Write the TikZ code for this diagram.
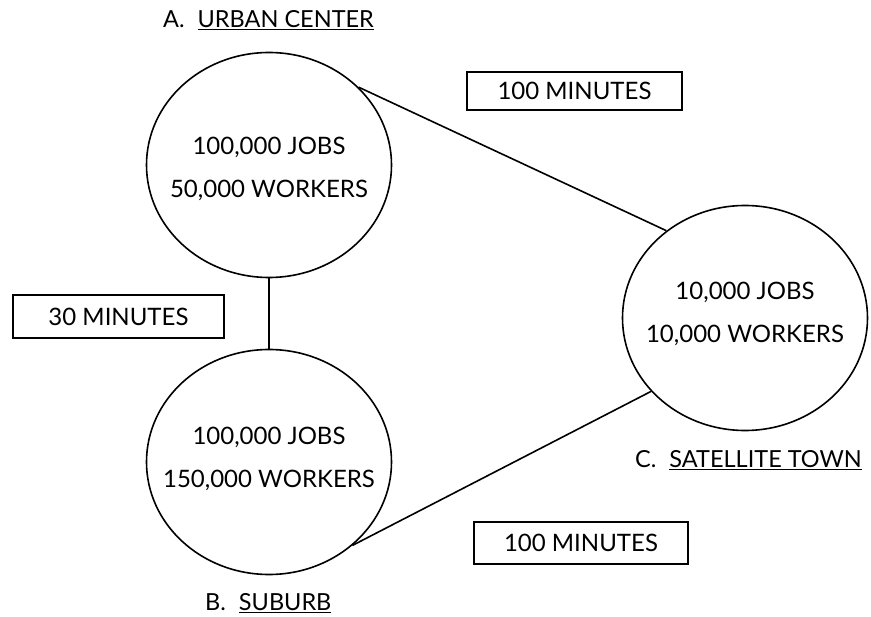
\documentclass[tikz,border=0pt]{standalone}
\usepackage{fontspec}
\setmainfont{Lato}
\usetikzlibrary{shapes.geometric}
\begin{document}
\begin{tikzpicture}[x=1pt,y=-1pt,
  place/.style={draw, line width=1.6pt, ellipse, minimum width=245pt, minimum height=225pt, inner sep=0pt},
  inside/.style={align=center, inner sep=0pt, font=\fontsize{24}{43}\selectfont},
  timebox/.style={draw, line width=1.7pt, rectangle, inner sep=0pt, font=\fontsize{24}{28}\selectfont},
  lbl/.style={anchor=base west, inner sep=0pt, font=\fontsize{23.5}{28}\selectfont},
  link/.style={line width=1.6pt}]
\useasboundingbox (0,0) rectangle (871,617);
\node[place] (A) at (269,165) {};
\node[place] (B) at (269,462) {};
\node[place] (C) at (745,318) {};
\node[inside] (Atext) at (269,169) {100,000 JOBS\\50,000 WORKERS};
\node[inside] (Btext) at (269,459) {100,000 JOBS\\150,000 WORKERS};
\node[inside] (Ctext) at (745,314) {10,000 JOBS\\10,000 WORKERS};
\node[timebox, minimum width=215pt, minimum height=38pt] (t1) at (574.5,91) {100 MINUTES};
\node[timebox, minimum width=214pt, minimum height=42pt] (t2) at (581,543) {100 MINUTES};
\node[timebox, minimum width=211pt, minimum height=43pt] (t3) at (118.5,316.5) {30 MINUTES};
\node[lbl] (la) at (163,28) {A.\hspace{13pt}\underline{URBAN CENTER}};
\node[lbl] (lb) at (205,611) {B.\hspace{13pt}\underline{SUBURB}};
\node[lbl] (lc) at (635,468) {C.\hspace{13pt}\underline{SATELLITE TOWN}};
\draw[link] (A.41) -- (C.132);
\draw[link] (B.-45) -- (C.218);
\draw[link] (A.south) -- (B.north);
\end{tikzpicture}
\end{document}
